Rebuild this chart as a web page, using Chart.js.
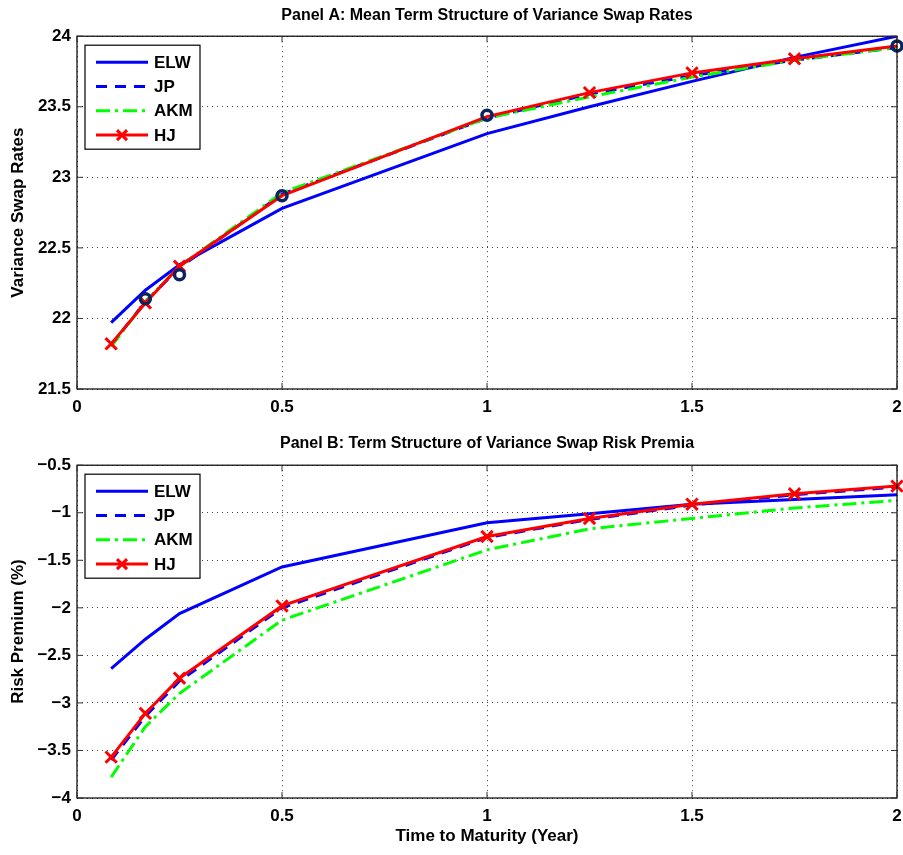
<!DOCTYPE html>
<html>
<head>
<meta charset="utf-8">
<script src="https://cdn.jsdelivr.net/npm/chart.js@4.4.1/dist/chart.umd.min.js"></script>
<style>
  body { margin: 0; background: #fff; }
  #wrap { position: relative; width: 903px; height: 855px; }
  #rates { position: absolute; left: 0; top: 0; }
  #premia { position: absolute; left: 0; top: 425px; }
</style>
</head>
<body>
<div id="wrap">
  <canvas id="rates" width="903" height="425"></canvas>
  <canvas id="premia" width="903" height="430"></canvas>
</div>
<script>
// Maturities in years (1, 2, 3, 6, 12, 15, 18, 21, 24 months)
const maturities = [0.0833, 0.1667, 0.25, 0.5, 1, 1.25, 1.5, 1.75, 2];
const xTicks = [0, 0.5, 1, 1.5, 2];

// Panel A: variance swap rates
const ratesELW = [21.97, 22.20, 22.38, 22.78, 23.31, 23.50, 23.68, 23.85, 24.00];
const ratesJP  = [21.81, 22.12, 22.36, 22.88, 23.42, 23.59, 23.72, 23.83, 23.92];
const ratesAKM = [21.80, 22.12, 22.37, 22.89, 23.42, 23.57, 23.71, 23.83, 23.92];
const ratesHJ  = [21.82, 22.11, 22.37, 22.87, 23.43, 23.60, 23.74, 23.84, 23.93];
// HJ crosses are not shown where an observed circle sits on the line
const ratesHJMarks = [8, 8, 8, 0, 0, 8, 8, 8, 0];
// observed rates (circles, not in legend)
const obsMaturities = [0.1667, 0.25, 0.5, 1, 2];
const obsRates = [22.14, 22.31, 22.87, 23.44, 23.93];
const ratesTicks = [21.5, 22, 22.5, 23, 23.5, 24];

// Panel B: risk premia (%)
const premiaELW = [-2.64, -2.33, -2.06, -1.57, -1.105, -1.01, -0.91, -0.86, -0.81];
const premiaJP  = [-3.60, -3.14, -2.77, -2.00, -1.26, -1.07, -0.92, -0.81, -0.73];
const premiaAKM = [-3.78, -3.25, -2.90, -2.13, -1.39, -1.17, -1.06, -0.95, -0.87];
const premiaHJ  = [-3.57, -3.11, -2.74, -1.98, -1.25, -1.06, -0.91, -0.80, -0.72];
const premiaTicks = [-4, -3.5, -3, -2.5, -2, -1.5, -1, -0.5];

const FONT = '"Liberation Sans", Arial, sans-serif';
Chart.defaults.font.family = FONT;
Chart.defaults.font.weight = 'bold';
Chart.defaults.color = '#000';

const pts = (xs, ys) => xs.map((x, i) => ({ x: x, y: ys[i] }));
const minus = v => String(v).replace('-', '\u2212');

// MATLAB-like box around the plot with inward tick marks
const frameAndTicks = {
  id: 'frameAndTicks',
  afterDatasetsDraw(chart) {
    const { ctx, chartArea: a, scales } = chart;
    ctx.save();
    ctx.strokeStyle = '#000';
    ctx.lineWidth = 1.2;
    ctx.setLineDash([]);
    ctx.strokeRect(a.left, a.top, a.right - a.left, a.bottom - a.top);
    ctx.lineWidth = 1;
    ctx.strokeStyle = '#333';
    ctx.beginPath();
    scales.x.ticks.forEach(t => {
      const px = scales.x.getPixelForValue(t.value);
      ctx.moveTo(px, a.bottom); ctx.lineTo(px, a.bottom - 6);
      ctx.moveTo(px, a.top); ctx.lineTo(px, a.top + 6);
    });
    scales.y.ticks.forEach(t => {
      const py = scales.y.getPixelForValue(t.value);
      ctx.moveTo(a.left, py); ctx.lineTo(a.left + 6, py);
      ctx.moveTo(a.right, py); ctx.lineTo(a.right - 6, py);
    });
    ctx.stroke();
    ctx.restore();
  }
};

// Boxed legend in the upper left corner of the plot
const boxLegend = {
  id: 'boxLegend',
  afterDraw(chart) {
    const { ctx, chartArea: a } = chart;
    const items = chart.data.datasets.filter(d => d.label);
    const left = a.left + 8, top = a.top + 9;
    ctx.save();
    ctx.fillStyle = '#fff';
    ctx.fillRect(left, top, 115, 104);
    ctx.strokeStyle = '#000';
    ctx.lineWidth = 1.2;
    ctx.setLineDash([]);
    ctx.strokeRect(left, top, 115, 104);
    items.forEach((d, i) => {
      const y = a.top + 26 + i * 24.3;
      ctx.strokeStyle = d.borderColor;
      ctx.lineWidth = d.borderWidth;
      ctx.setLineDash(d.borderDash || []);
      ctx.beginPath();
      ctx.moveTo(left + 11, y);
      ctx.lineTo(left + 63, y);
      ctx.stroke();
      if (d.pointStyle === 'crossRot') {
        const cx = left + 37, r = 5;
        ctx.setLineDash([]);
        ctx.beginPath();
        ctx.moveTo(cx - r, y - r); ctx.lineTo(cx + r, y + r);
        ctx.moveTo(cx - r, y + r); ctx.lineTo(cx + r, y - r);
        ctx.stroke();
      }
      ctx.fillStyle = '#000';
      ctx.font = 'bold 17px ' + FONT;
      ctx.textBaseline = 'middle';
      ctx.fillText(d.label, left + 69, y + 1);
    });
    ctx.restore();
  }
};

function seriesSets(elw, jp, akm, hj, hjMarks) {
  return [
    { label: 'ELW', data: pts(maturities, elw), borderColor: '#0000ff', borderWidth: 3,
      pointRadius: 0, order: 4 },
    { label: 'JP', data: pts(maturities, jp), borderColor: '#0000ff', borderWidth: 3,
      borderDash: [11, 8], pointRadius: 0, order: 3 },
    { label: 'AKM', data: pts(maturities, akm), borderColor: '#00ff00', borderWidth: 3,
      borderDash: [14, 5, 3, 5], pointRadius: 0, order: 2 },
    { label: 'HJ', data: pts(maturities, hj), borderColor: '#ff0000', borderWidth: 3,
      pointStyle: 'crossRot', pointRadius: hjMarks || 8, pointBorderWidth: 3,
      pointBorderColor: '#ff0000', order: 1, clip: 12 }
  ];
}

function makeOptions(title, titlePad, yTitle, yMin, yMax, yTicks, xHeight, xTitle) {
  return {
    responsive: false,
    maintainAspectRatio: false,
    animation: false,
    // no automatic padding for point overflow: keep the plot box where it is in the figure
    layout: { autoPadding: false, padding: { left: 0, right: 6, top: 0, bottom: 0 } },
    scales: {
      x: {
        type: 'linear', min: 0, max: 2,
        afterBuildTicks: s => { s.ticks = xTicks.map(v => ({ value: v })); },
        afterFit: s => { s.height = xHeight; s.paddingLeft = 0; s.paddingRight = 0; },
        ticks: { padding: 8, font: { size: 17 }, callback: v => minus(v) },
        grid: { color: 'rgba(0,0,0,0.75)', lineWidth: 1, drawTicks: false },
        border: { display: false, dash: [1, 4] },
        title: { display: !!xTitle, text: xTitle, font: { size: 17 }, padding: { top: 0, bottom: 8 } }
      },
      y: {
        type: 'linear', min: yMin, max: yMax,
        afterBuildTicks: s => { s.ticks = yTicks.map(v => ({ value: v })); },
        afterFit: s => { s.width = 77; s.paddingTop = 0; s.paddingBottom = 0; },
        ticks: { padding: 6, font: { size: 17 }, callback: v => minus(v) },
        grid: { color: 'rgba(0,0,0,0.75)', lineWidth: 1, drawTicks: false },
        border: { display: false, dash: [1, 4] },
        title: { display: true, text: yTitle, font: { size: 17 }, padding: { top: 8, bottom: 0 } }
      }
    },
    plugins: {
      legend: { display: false },
      tooltip: { enabled: false },
      title: {
        display: true, text: title, fullSize: false,
        font: { size: 16, weight: 'bold' },
        padding: titlePad
      }
    }
  };
}

// Panel A
const ratesSets = seriesSets(ratesELW, ratesJP, ratesAKM, ratesHJ, ratesHJMarks);
ratesSets.push({
  data: pts(obsMaturities, obsRates), showLine: false,
  pointStyle: 'circle', pointRadius: 5, pointBorderWidth: 3.5,
  pointBorderColor: '#0d2260', pointBackgroundColor: 'rgba(0,0,0,0)',
  order: 0, clip: 12
});
new Chart(document.getElementById('rates').getContext('2d'), {
  type: 'line',
  data: { datasets: ratesSets },
  options: makeOptions('Panel A: Mean Term Structure of Variance Swap Rates',
    { top: 6, bottom: 11 }, 'Variance Swap Rates', 21.5, 24, ratesTicks, 36, ''),
  plugins: [frameAndTicks, boxLegend]
});

// Panel B
new Chart(document.getElementById('premia').getContext('2d'), {
  type: 'line',
  data: { datasets: seriesSets(premiaELW, premiaJP, premiaAKM, premiaHJ) },
  options: makeOptions('Panel B: Term Structure of Variance Swap Risk Premia',
    { top: 9, bottom: 12 }, 'Risk Premium (%)', -4, -0.5, premiaTicks, 57, 'Time to Maturity (Year)'),
  plugins: [frameAndTicks, boxLegend]
});
</script>
</body>
</html>
